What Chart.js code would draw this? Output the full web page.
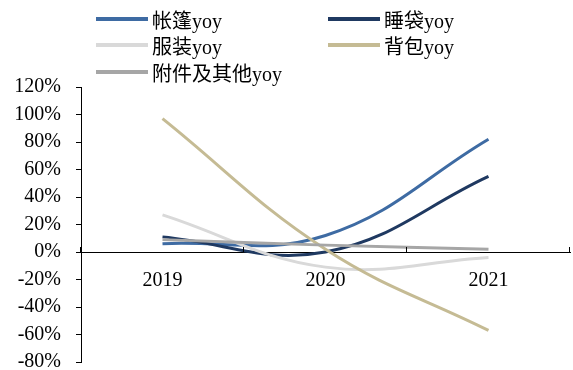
<!DOCTYPE html>
<html>
<head>
<meta charset="utf-8">
<script src="https://cdn.jsdelivr.net/npm/chart.js@4"></script>
<style>
  html, body { margin: 0; padding: 0; background: #fff; }
  #wrap { position: relative; width: 573px; height: 370px; }
  #legend { position: absolute; left: 0; top: 0; width: 573px; height: 85px; }
  .item { position: absolute; height: 24px; display: flex; align-items: center;
          font-family: "Liberation Serif", "Times New Roman", "Noto Sans CJK SC", serif;
          font-size: 20px; color: #000; white-space: nowrap; }
  .swatch { width: 52px; height: 4px; margin-right: 4px; }
</style>
</head>
<body>
<div id="wrap">
  <canvas id="chart" width="573" height="370"></canvas>
  <div id="legend"></div>
</div>
<script>
const years = ['2019', '2020', '2021'];

const tentYoy = [6, 12, 82];
const sleepingBagYoy = [11, 0, 55];
const apparelYoy = [27, -11, -4];
const backpackYoy = [97, 2, -57];
const accessoryYoy = [9, 5, 2];

const seriesNames = ['帐篷yoy', '睡袋yoy', '服装yoy', '背包yoy', '附件及其他yoy'];
const seriesColors = ['#3E6BA3', '#1F3961', '#D9D9D9', '#C5BB94', '#A6A6A6'];
const seriesValues = [tentYoy, sleepingBagYoy, apparelYoy, backpackYoy, accessoryYoy];

const yTicks = { min: -80, max: 120, step: 20 };

const tickFont = { family: '"Liberation Serif", "Times New Roman", serif', size: 20 };

// small upward tick marks on the category axis, at category boundaries
const xAxisTicks = {
    id: 'xAxisTicks',
    afterDraw(chart) {
        const x = chart.scales.x;
        const y0 = chart.scales.y.getPixelForValue(0);
        const ctx = chart.ctx;
        ctx.save();
        ctx.strokeStyle = '#000';
        ctx.lineWidth = 1;
        for (let i = 0; i <= years.length; i++) {
            const px = Math.round(x.getPixelForValue(i - 0.5)) - 0.5;
            ctx.beginPath();
            ctx.moveTo(px, y0);
            ctx.lineTo(px, y0 - 5);
            ctx.stroke();
        }
        ctx.restore();
    }
};

const datasets = seriesNames.map((name, i) => ({
    label: name,
    data: seriesValues[i],
    borderColor: seriesColors[i],
    backgroundColor: seriesColors[i],
    borderWidth: 3,
    pointRadius: 0,
    tension: 0.4,
    fill: false,
    order: seriesNames.length - i
}));

new Chart(document.getElementById('chart'), {
    type: 'line',
    data: { labels: years, datasets: datasets },
    options: {
        responsive: false,
        animation: false,
        layout: { padding: { top: 87, bottom: 8, right: 3, left: 0 } },
        plugins: {
            legend: { display: false },
            tooltip: { enabled: false }
        },
        scales: {
            x: {
                type: 'category',
                offset: true,
                position: { y: 0 },
                grid: { display: false },
                border: { display: true, color: '#000', width: 1 },
                ticks: { color: '#000', font: tickFont, padding: 9, maxRotation: 0 }
            },
            y: {
                min: yTicks.min,
                max: yTicks.max,
                afterFit(scale) {
                    scale.width = 81;
                    scale.paddingTop = 0;
                    scale.paddingBottom = 0;
                },
                grid: { drawOnChartArea: false, drawTicks: true, tickLength: 5, color: '#000' },
                border: { display: true, color: '#000', width: 1 },
                ticks: {
                    stepSize: yTicks.step,
                    color: '#000',
                    font: tickFont,
                    padding: 15,
                    callback: v => v + '%'
                }
            }
        }
    },
    plugins: [xAxisTicks]
});

// legend: two columns, three rows
const legend = document.getElementById('legend');
const colX = [96, 328];
const rowY = [19, 45, 72];
seriesNames.forEach((name, i) => {
    const item = document.createElement('div');
    item.className = 'item';
    item.style.left = colX[i % 2] + 'px';
    item.style.top = (rowY[Math.floor(i / 2)] - 12) + 'px';
    const sw = document.createElement('span');
    sw.className = 'swatch';
    sw.style.background = seriesColors[i];
    item.appendChild(sw);
    item.appendChild(document.createTextNode(name));
    legend.appendChild(item);
});
</script>
</body>
</html>
